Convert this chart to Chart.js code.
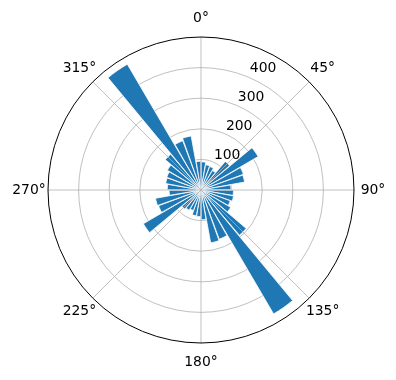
<!DOCTYPE html>
<html>
<head>
<meta charset="utf-8">
<script src="https://cdn.jsdelivr.net/npm/chart.js@4/dist/chart.umd.min.js"></script>
<style>
  body { margin: 0; background: #fff; }
</style>
</head>
<body>
<canvas id="chart" width="396" height="380"></canvas>
<script>
// bin centres in degrees (10 degree bins, clockwise from north)
const directions = [5, 15, 25, 35, 45, 55, 65, 75, 85, 95, 105, 115,
  125, 135, 145, 155, 165, 175, 185, 195, 205, 215, 225, 235,
  245, 255, 265, 275, 285, 295, 305, 315, 325, 335, 345, 355];
const counts = [90, 82, 80, 72, 120, 212, 145, 142, 96, 104, 106, 100,
  110, 190, 460, 168, 172, 95, 85, 84, 70, 75, 80, 214,
  145, 148, 102, 108, 115, 117, 125, 150, 467, 168, 176, 92];
const radialTicks = [100, 200, 300, 400];
const rMax = 490;
const thetaTicks = [0, 45, 90, 135, 180, 225, 270, 315];
const thetaLabels = ['0°', '45°', '90°', '135°', '180°', '225°', '270°', '315°'];

const binWidth = 10;
const barWidth = 9.3;
const gapWidth = binWidth - barWidth;
const start = directions[0] - barWidth / 2;

// each bar is followed by an empty slice, so bars are a bit narrower than their bin
const sliceLabels = [];
const sliceValues = [];
directions.forEach((d, i) => {
  sliceLabels.push(d + '°', '');
  sliceValues.push(counts[i], 0);
});

const FONT = '13.9px "DejaVu Sans"';

const polarDecor = {
  id: 'polarDecor',
  afterDraw(chart) {
    const scale = chart.scales.r;
    const ctx = chart.ctx;
    const outer = scale.getDistanceFromCenterForValue(rMax);
    const step = 360 / chart.data.labels.length;
    const idx = deg => (deg - start) / step;
    ctx.save();
    // angle grid lines
    ctx.strokeStyle = '#b0b0b0';
    ctx.lineWidth = 0.8;
    thetaTicks.forEach(t => {
      const p = scale.getPointPosition(idx(t), outer);
      ctx.beginPath();
      ctx.moveTo(scale.xCenter, scale.yCenter);
      ctx.lineTo(p.x, p.y);
      ctx.stroke();
    });
    // outer spine
    ctx.strokeStyle = '#000';
    ctx.lineWidth = 1;
    ctx.beginPath();
    ctx.arc(scale.xCenter, scale.yCenter, outer, 0, Math.PI * 2);
    ctx.stroke();
    // theta labels
    ctx.fillStyle = '#000';
    ctx.font = FONT;
    ctx.textAlign = 'center';
    ctx.textBaseline = 'middle';
    thetaTicks.forEach((t, i) => {
      const p = scale.getPointPosition(idx(t), outer + 19);
      ctx.fillText(thetaLabels[i], p.x, p.y);
    });
    // radial labels at 22.5 degrees
    ctx.textAlign = 'left';
    ctx.textBaseline = 'bottom';
    radialTicks.forEach(v => {
      const p = scale.getPointPosition(idx(22.5), scale.getDistanceFromCenterForValue(v));
      ctx.fillText(String(v), p.x + 1, p.y + 1);
    });
    ctx.restore();
  }
};

new Chart(document.getElementById('chart'), {
  type: 'polarArea',
  data: {
    labels: sliceLabels,
    datasets: [{
      data: sliceValues,
      angle: c => (c.dataIndex % 2 ? gapWidth : barWidth),
      backgroundColor: '#1f77b4',
      borderColor: '#ffffff',
      borderWidth: 0.8
    }]
  },
  options: {
    responsive: false,
    animation: false,
    layout: { padding: { left: 48, right: 42, top: 37, bottom: 37 } },
    plugins: {
      legend: { display: false },
      tooltip: { enabled: false }
    },
    scales: {
      r: {
        min: 0,
        max: rMax,
        startAngle: start,
        z: 1,
        ticks: { display: false, stepSize: 100 },
        grid: {
          circular: true,
          color: c => (c.tick && c.tick.value >= rMax) ? 'rgba(0,0,0,0)' : '#b0b0b0',
          lineWidth: 0.8
        },
        angleLines: { display: false },
        pointLabels: { display: false }
      }
    }
  },
  plugins: [polarDecor]
});
</script>
</body>
</html>
